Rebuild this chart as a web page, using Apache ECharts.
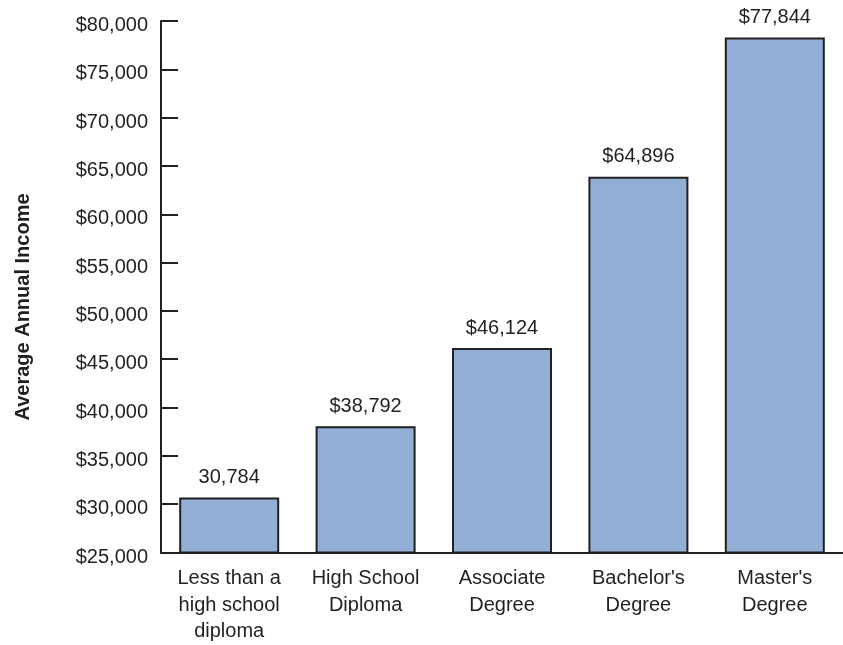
<!DOCTYPE html>
<html>
<head>
<meta charset="utf-8">
<script src="https://cdn.jsdelivr.net/npm/echarts@6/dist/echarts.min.js"></script>
<style>
  html, body { margin: 0; padding: 0; background: #fff; }
  #chart { width: 843px; height: 645px; }
</style>
</head>
<body>
<div id="chart"></div>
<script>
// categories
const categories = ['Less than a\nhigh school\ndiploma', 'High School\nDiploma', 'Associate\nDegree', "Bachelor's\nDegree", "Master's\nDegree"]
// bar heights as drawn in the picture (the drawn bars don't sit exactly on their printed values)
const incomes = [30680, 38060, 46160, 63890, 78280]
// labels as printed above the bars (the first one has no $)
const barLabels = ['30,784', '$38,792', '$46,124', '$64,896', '$77,844']

const yMin = 25000
const yMax = 80000
const yStep = 5000

const ink = '#231f20'
const font = '"Liberation Sans", Arial, sans-serif'

const chart = echarts.init(document.getElementById('chart'))

const fmtMoney = v => '$' + String(v).replace(/\B(?=(\d{3})+(?!\d))/g, ',')

const option = {
  animation: false,
  grid: { left: 161, right: -8, top: 21, bottom: 92 },
  xAxis: {
    type: 'category',
    data: categories,
    axisLine: { lineStyle: { color: ink, width: 2 } },
    axisTick: { show: false },
    axisLabel: {
      color: ink,
      fontFamily: font,
      fontSize: 20,
      lineHeight: 26.5,
      margin: 13,
      interval: 0
    }
  },
  yAxis: {
    type: 'value',
    min: yMin,
    max: yMax,
    interval: yStep,
    splitLine: { show: false },
    axisLine: { show: true, lineStyle: { color: ink, width: 2 } },
    axisTick: { show: true, inside: true, length: 17, lineStyle: { color: ink, width: 2 } },
    axisLabel: {
      margin: 13,
      // labels sit a little below their ticks in the original
      formatter: v => '{v|' + fmtMoney(v) + '}',
      rich: {
        v: {
          color: ink,
          fontFamily: font,
          fontSize: 20,
          padding: [9, 0, 0, 0]
        }
      }
    }
  },
  graphic: [
    {
      type: 'text',
      x: 23,
      y: 307,
      rotation: Math.PI / 2,
      style: {
        text: 'Average Annual Income',
        fill: ink,
        font: 'bold 20px ' + font,
        textAlign: 'center',
        textVerticalAlign: 'middle'
      }
    }
  ],
  series: [
    {
      type: 'bar',
      data: incomes,
      barWidth: 100,
      itemStyle: {
        color: '#92afd6',
        borderColor: ink,
        borderWidth: 2
      },
      label: {
        show: true,
        position: 'top',
        distance: 10,
        color: ink,
        fontFamily: font,
        fontSize: 20,
        formatter: p => barLabels[p.dataIndex]
      }
    }
  ]
}

chart.setOption(option)
</script>
</body>
</html>
